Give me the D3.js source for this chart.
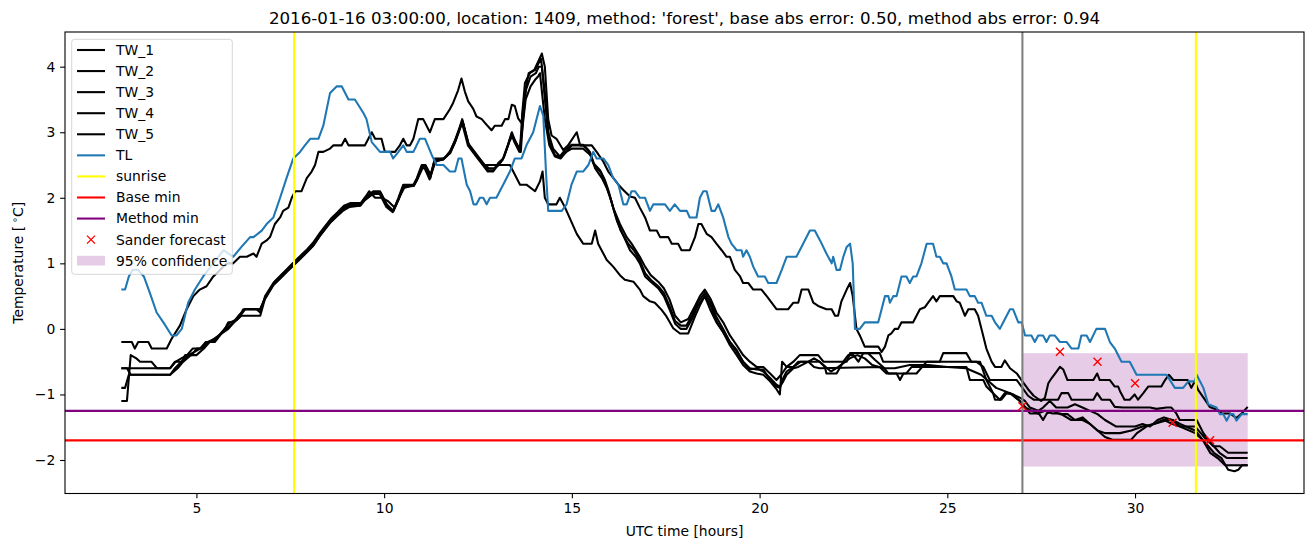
<!DOCTYPE html>
<html><head><meta charset="utf-8">
<script src="https://cdn.jsdelivr.net/npm/d3@7"></script>
<style>body{margin:0;background:#fff}svg{display:block;font-family:"DejaVu Sans",sans-serif}</style>
</head><body><svg id="c" width="1313" height="547"></svg>
<script>
// ---------- data: [UTC hour, temperature °C] ----------
const tw1 = [[3.0,-0.2],[3.28,-0.2],[3.36,-0.3],[3.45,-0.2],[3.72,-0.2],[3.81,-0.3],[4.21,-0.3],[4.34,-0.15],[4.56,0.05],[4.74,0.3],[4.92,0.5],[5.09,0.6],[5.27,0.65],[5.45,0.8],[5.63,0.9],[5.81,1.0],[5.98,1.0],[6.16,1.1],[6.34,1.1],[6.52,1.15],[6.6,1.1],[6.74,1.3],[6.87,1.35],[6.96,1.4],[7.09,1.6],[7.23,1.7],[7.31,1.8],[7.45,1.85],[7.54,2.0],[7.63,2.1],[7.8,2.1],[7.94,2.3],[8.07,2.4],[8.16,2.5],[8.25,2.7],[8.38,2.7],[8.56,2.75],[8.65,2.8],[8.87,2.8],[8.96,2.9],[9.05,2.8],[9.49,2.8],[9.58,2.9],[9.67,3.0],[9.76,2.9],[9.93,2.9],[10.02,2.7],[10.29,2.7],[10.42,2.8],[10.51,2.9],[10.6,2.8],[10.69,2.8],[10.78,2.9],[10.91,3.2],[11.04,3.2],[11.22,3.0],[11.35,3.2],[11.58,3.2],[11.75,3.35],[11.84,3.45],[11.97,3.64],[12.06,3.82],[12.15,3.62],[12.24,3.47],[12.37,3.36],[12.46,3.24],[12.6,3.2],[12.69,3.14],[12.86,3.03],[12.95,3.1],[13.13,3.1],[13.22,3.2],[13.31,3.2],[13.4,3.42],[13.48,3.4],[13.57,3.21],[13.66,3.14],[13.75,3.6],[13.85,3.9],[14.0,3.95],[14.12,4.1],[14.2,4.2],[14.28,4.0],[14.37,3.2],[14.46,2.95],[14.59,2.9],[14.77,2.73],[14.9,2.8],[15.13,3.0],[15.22,2.8],[15.53,2.8],[15.66,2.7],[15.84,2.55],[15.97,2.4],[16.15,2.27],[16.24,2.2],[16.37,2.12],[16.55,2.02],[16.68,2.0],[16.81,1.85],[16.95,1.7],[17.08,1.5],[17.26,1.5],[17.35,1.4],[17.57,1.4],[17.66,1.3],[17.83,1.3],[17.92,1.2],[18.14,1.2],[18.28,1.4],[18.37,1.6],[18.45,1.6],[18.59,1.45],[18.72,1.4],[18.85,1.3],[18.99,1.2],[19.12,1.1],[19.21,1.1],[19.34,0.9],[19.48,0.8],[19.56,0.7],[19.7,0.7],[19.83,0.6],[20.05,0.6],[20.19,0.5],[20.32,0.4],[20.45,0.3],[20.76,0.3],[20.9,0.4],[21.03,0.4],[21.12,0.6],[21.3,0.6],[21.43,0.4],[21.56,0.35],[21.78,0.3],[21.92,0.3],[22.01,0.2],[22.09,0.2],[22.18,0.42],[22.32,0.6],[22.41,0.7],[22.48,0.5],[22.58,0.0],[22.67,-0.1],[22.8,-0.27],[23.16,-0.27],[23.25,-0.35],[23.34,-0.27],[23.43,-0.1],[23.51,-0.07],[23.6,0.0],[23.69,0.0],[23.78,0.1],[24.09,0.1],[24.18,0.2],[24.27,0.3],[24.4,0.33],[24.49,0.4],[24.62,0.5],[24.71,0.42],[24.8,0.5],[25.16,0.5],[25.25,0.42],[25.33,0.4],[25.47,0.2],[25.56,0.3],[25.73,0.3],[25.82,0.2],[25.91,0.0],[26.04,-0.3],[26.18,-0.5],[26.27,-0.58],[26.44,-0.58],[26.53,-0.48],[26.67,-0.6],[26.85,-0.68],[27.0,-0.8],[27.15,-0.92],[27.3,-1.02],[27.5,-1.1],[27.6,-1.05],[27.69,-0.83],[27.78,-0.75],[27.91,-0.65],[28.0,-0.58],[28.09,-0.62],[28.2,-0.78],[28.89,-0.78],[28.99,-0.68],[29.06,-0.78],[29.33,-0.78],[29.46,-0.88],[29.55,-0.88],[29.6,-0.95],[29.72,-1.08],[29.86,-1.08],[29.99,-1.0],[30.08,-1.08],[30.22,-0.98],[30.35,-0.88],[30.7,-0.88],[30.8,-0.78],[30.9,-0.7],[31.02,-0.78],[31.4,-0.78],[31.5,-0.9],[31.59,-0.8],[31.68,-0.93],[31.86,-1.08],[31.99,-1.19],[32.22,-1.24],[32.3,-1.29],[32.53,-1.29],[32.7,-1.36],[32.84,-1.29],[33.0,-1.19]];

const tw2 = [[3.0,-0.6],[4.3,-0.6],[4.43,-0.5],[4.61,-0.5],[4.7,-0.4],[4.87,-0.4],[5.01,-0.3],[5.18,-0.3],[5.27,-0.2],[5.49,-0.2],[5.63,-0.1],[5.76,0.0],[5.85,0.1],[5.98,0.1],[6.12,0.2],[6.29,0.3],[6.6,0.3],[6.7,0.25],[6.83,0.5],[7.05,0.7],[7.23,0.8],[7.4,0.9],[7.58,1.0],[7.76,1.1],[7.94,1.2],[8.11,1.3],[8.29,1.45],[8.56,1.65],[8.74,1.75],[8.91,1.85],[9.09,1.9],[9.36,1.9],[9.49,2.0],[9.71,2.1],[9.89,2.1],[10.07,1.9],[10.24,1.8],[10.38,2.0],[10.51,2.2],[10.78,2.2],[10.87,2.3],[11.0,2.5],[11.09,2.5],[11.22,2.3],[11.35,2.6],[11.58,2.6],[11.66,2.63],[11.75,2.7],[11.89,2.88],[12.02,3.09],[12.08,3.2],[12.15,3.03],[12.24,2.83],[12.37,2.73],[12.5,2.63],[12.64,2.53],[12.77,2.42],[12.91,2.42],[13.04,2.53],[13.17,2.6],[13.31,2.83],[13.4,3.0],[13.48,2.88],[13.62,2.73],[13.68,3.3],[13.75,3.75],[13.88,3.9],[14.02,3.95],[14.11,4.05],[14.18,4.12],[14.28,3.6],[14.37,3.0],[14.5,2.75],[14.68,2.63],[14.82,2.73],[14.99,2.81],[15.3,2.81],[15.44,2.73],[15.57,2.53],[15.75,2.42],[15.88,2.27],[15.97,2.12],[16.1,1.85],[16.28,1.6],[16.46,1.4],[16.59,1.3],[16.81,1.1],[16.95,0.95],[17.1,0.82],[17.3,0.72],[17.45,0.62],[17.6,0.45],[17.75,0.2],[17.9,0.1],[18.1,0.15],[18.28,0.35],[18.41,0.5],[18.54,0.6],[18.7,0.45],[18.85,0.25],[19.03,0.1],[19.21,-0.1],[19.39,-0.25],[19.56,-0.4],[19.74,-0.5],[19.92,-0.58],[20.1,-0.58],[20.28,-0.68],[20.45,-0.78],[20.6,-0.68],[20.72,-0.58],[20.9,-0.5],[21.07,-0.4],[21.56,-0.4],[21.7,-0.5],[22.32,-0.5],[22.41,-0.37],[23.2,-0.37],[23.29,-0.5],[25.77,-0.5],[25.96,-0.58],[26.13,-0.78],[26.85,-0.78],[27.0,-0.9],[27.15,-1.02],[27.3,-1.08],[27.95,-1.08],[28.04,-0.98],[28.22,-0.98],[28.31,-1.08],[28.89,-1.08],[28.99,-0.98],[29.11,-1.08],[29.33,-1.08],[29.46,-1.19],[29.68,-1.2],[30.4,-1.2],[30.57,-1.22],[30.84,-1.2],[30.97,-1.2],[31.1,-1.29],[31.19,-1.39],[31.64,-1.39],[31.73,-1.49],[31.82,-1.59],[31.95,-1.69],[32.08,-1.79],[32.26,-1.79],[32.48,-1.89],[33.0,-1.89]];

const tw3 = [[3.0,-0.6],[3.15,-0.6],[3.25,-0.7],[4.3,-0.7],[4.43,-0.6],[4.6,-0.5],[4.78,-0.4],[4.95,-0.35],[5.1,-0.3],[5.3,-0.2],[5.5,-0.15],[5.7,-0.05],[5.9,0.05],[6.1,0.15],[6.3,0.3],[6.7,0.3],[6.85,0.5],[7.08,0.72],[7.25,0.82],[7.43,0.92],[7.6,1.02],[7.78,1.12],[7.96,1.22],[8.13,1.33],[8.31,1.48],[8.58,1.68],[8.76,1.78],[8.93,1.88],[9.11,1.92],[9.38,1.92],[9.51,2.02],[9.6,2.1],[9.76,2.0],[9.95,2.0],[10.1,1.95],[10.28,1.85],[10.4,2.0],[10.53,2.15],[10.8,2.2],[10.9,2.3],[11.02,2.45],[11.1,2.5],[11.24,2.35],[11.37,2.55],[11.6,2.6],[11.77,2.72],[11.91,2.9],[12.04,3.1],[12.1,3.15],[12.17,3.0],[12.26,2.8],[12.4,2.7],[12.53,2.6],[12.67,2.5],[12.8,2.45],[12.93,2.45],[13.06,2.5],[13.2,2.63],[13.33,2.85],[13.42,2.95],[13.5,2.85],[13.64,2.7],[13.7,3.2],[13.78,3.65],[13.9,3.85],[14.04,3.9],[14.12,4.0],[14.2,4.0],[14.3,3.4],[14.4,2.85],[14.55,2.65],[14.7,2.63],[14.85,2.7],[15.0,2.8],[15.3,2.8],[15.48,2.7],[15.6,2.5],[15.78,2.38],[15.9,2.2],[16.0,2.05],[16.15,1.75],[16.3,1.5],[16.5,1.3],[16.65,1.2],[16.81,1.05],[16.95,0.85],[17.1,0.75],[17.3,0.65],[17.45,0.55],[17.6,0.35],[17.75,0.12],[17.9,0.05],[18.05,0.05],[18.2,0.2],[18.35,0.4],[18.54,0.55],[18.7,0.4],[18.85,0.18],[19.03,0.0],[19.21,-0.2],[19.39,-0.32],[19.56,-0.5],[19.74,-0.6],[19.92,-0.62],[20.1,-0.62],[20.28,-0.78],[20.45,-0.88],[20.54,-0.9],[20.63,-0.75],[20.72,-0.65],[20.9,-0.58],[21.03,-0.5],[21.6,-0.5],[21.74,-0.58],[21.78,-0.68],[22.05,-0.68],[22.23,-0.5],[22.36,-0.4],[22.5,-0.4],[22.63,-0.5],[22.76,-0.37],[22.89,-0.37],[23.07,-0.47],[23.29,-0.58],[23.43,-0.68],[23.65,-0.68],[23.74,-0.78],[23.83,-0.68],[24.18,-0.68],[24.45,-0.5],[24.8,-0.5],[24.89,-0.37],[25.51,-0.37],[25.64,-0.5],[25.87,-0.5],[26.04,-0.78],[26.22,-0.98],[26.4,-1.08],[26.53,-0.98],[26.67,-0.98],[26.75,-1.0],[26.93,-1.05],[27.07,-1.1],[27.2,-1.2],[27.42,-1.25],[27.55,-1.2],[27.73,-1.1],[27.9,-1.2],[28.2,-1.2],[28.4,-1.15],[28.6,-1.2],[28.8,-1.25],[29.0,-1.3],[29.2,-1.39],[29.5,-1.49],[30.0,-1.49],[30.2,-1.45],[30.4,-1.49],[30.6,-1.39],[30.77,-1.35],[31.0,-1.39],[31.2,-1.49],[31.6,-1.49],[31.75,-1.59],[31.9,-1.69],[32.1,-1.79],[32.25,-1.89],[32.45,-1.97],[33.0,-1.97]];

const tw4 = [[3.0,-0.9],[3.1,-0.9],[3.2,-0.7],[4.3,-0.7],[4.5,-0.6],[4.65,-0.5],[4.85,-0.4],[5.0,-0.4],[5.2,-0.3],[5.35,-0.2],[5.6,-0.1],[5.85,0.0],[6.0,0.1],[6.2,0.2],[6.5,0.2],[6.7,0.2],[6.82,0.45],[7.04,0.66],[7.22,0.76],[7.39,0.86],[7.57,0.96],[7.75,1.06],[7.93,1.16],[8.1,1.26],[8.28,1.41],[8.55,1.61],[8.73,1.71],[8.9,1.8],[9.08,1.86],[9.35,1.88],[9.48,1.96],[9.7,2.06],[9.88,2.06],[10.06,1.86],[10.23,1.78],[10.37,1.96],[10.5,2.16],[10.77,2.18],[10.86,2.26],[10.99,2.45],[11.08,2.45],[11.21,2.28],[11.34,2.56],[11.57,2.58],[11.74,2.68],[11.88,2.84],[12.01,3.05],[12.07,3.15],[12.14,3.0],[12.23,2.8],[12.36,2.7],[12.49,2.6],[12.63,2.5],[12.76,2.4],[12.9,2.4],[13.03,2.5],[13.16,2.58],[13.3,2.8],[13.39,2.97],[13.47,2.85],[13.6,2.7],[13.67,3.0],[13.77,3.5],[13.9,3.7],[14.02,3.8],[14.1,3.85],[14.15,3.9],[14.28,3.2],[14.4,2.8],[14.55,2.63],[14.7,2.6],[14.85,2.7],[15.0,2.75],[15.3,2.75],[15.5,2.65],[15.62,2.45],[15.8,2.3],[15.93,2.15],[16.05,1.95],[16.2,1.65],[16.35,1.45],[16.55,1.2],[16.7,1.1],[16.81,1.0],[16.95,0.8],[17.1,0.72],[17.3,0.62],[17.45,0.5],[17.6,0.3],[17.75,0.08],[17.9,0.0],[18.05,0.0],[18.2,0.15],[18.35,0.35],[18.54,0.5],[18.7,0.35],[18.85,0.12],[19.03,-0.05],[19.21,-0.25],[19.39,-0.4],[19.56,-0.55],[19.74,-0.65],[19.92,-0.68],[20.1,-0.7],[20.28,-0.8],[20.45,-0.92],[20.54,-1.0],[20.6,-0.5],[20.72,-0.58],[20.9,-0.58],[21.1,-0.5],[21.3,-0.5],[21.45,-0.58],[21.6,-0.6],[23.2,-0.58],[23.38,-0.68],[23.91,-0.68],[24.05,-0.58],[25.51,-0.58],[25.6,-0.78],[25.96,-0.78],[26.04,-0.88],[26.22,-0.98],[26.27,-1.08],[26.44,-1.08],[26.58,-0.98],[26.75,-1.0],[26.93,-1.1],[27.07,-1.19],[27.2,-1.29],[27.4,-1.29],[27.6,-1.25],[27.8,-1.29],[28.0,-1.29],[28.3,-1.39],[28.6,-1.39],[28.8,-1.45],[29.0,-1.55],[29.2,-1.59],[29.6,-1.59],[29.9,-1.55],[30.2,-1.49],[30.5,-1.45],[30.8,-1.4],[31.0,-1.45],[31.2,-1.49],[31.6,-1.59],[31.8,-1.69],[32.0,-1.89],[32.2,-1.97],[32.4,-2.08],[33.0,-2.08]];

const tw5 = [[3.0,-1.1],[3.15,-1.1],[3.25,-0.4],[3.4,-0.45],[3.5,-0.5],[3.8,-0.5],[3.95,-0.6],[4.3,-0.6],[4.45,-0.5],[4.6,-0.45],[4.75,-0.4],[4.9,-0.3],[5.1,-0.3],[5.25,-0.2],[5.45,-0.2],[5.6,-0.1],[5.75,0.0],[5.9,0.1],[6.1,0.15],[6.25,0.3],[6.5,0.3],[6.7,0.3],[6.84,0.48],[7.06,0.68],[7.24,0.78],[7.41,0.88],[7.59,0.98],[7.77,1.08],[7.95,1.18],[8.12,1.28],[8.3,1.43],[8.57,1.63],[8.75,1.73],[8.92,1.83],[9.1,1.88],[9.37,1.88],[9.5,1.98],[9.72,2.08],[9.9,2.08],[10.08,1.88],[10.25,1.8],[10.39,1.98],[10.52,2.18],[10.79,2.18],[10.88,2.28],[11.01,2.48],[11.1,2.48],[11.23,2.3],[11.36,2.58],[11.59,2.6],[11.76,2.68],[11.9,2.86],[12.03,3.07],[12.09,3.17],[12.16,3.0],[12.25,2.8],[12.38,2.7],[12.51,2.6],[12.65,2.5],[12.77,2.5],[13.35,2.5],[13.62,2.2],[13.79,2.2],[14.02,2.1],[14.15,2.25],[14.22,2.4],[14.28,2.0],[14.37,1.9],[14.59,1.9],[14.68,2.0],[14.82,1.85],[15.13,1.45],[15.3,1.3],[15.53,1.3],[15.62,1.5],[15.7,1.3],[15.93,1.05],[16.1,0.95],[16.28,0.82],[16.41,0.75],[16.64,0.72],[16.81,0.6],[16.9,0.5],[17.08,0.42],[17.21,0.4],[17.39,0.29],[17.52,0.19],[17.7,0.01],[17.88,-0.07],[18.1,-0.07],[18.28,0.19],[18.41,0.36],[18.54,0.5],[18.68,0.3],[18.85,0.1],[19.03,-0.05],[19.21,-0.2],[19.39,-0.35],[19.56,-0.5],[19.74,-0.62],[19.92,-0.6],[20.1,-0.65],[20.28,-0.75],[20.45,-0.85],[20.54,-0.88],[20.63,-0.8],[20.72,-0.7],[20.9,-0.6],[21.03,-0.58],[21.3,-0.5],[21.45,-0.45],[21.6,-0.5],[21.9,-0.65],[22.1,-0.58],[22.4,-0.45],[22.6,-0.4],[22.8,-0.45],[23.0,-0.55],[23.3,-0.6],[23.6,-0.6],[24.0,-0.55],[24.5,-0.55],[25.0,-0.58],[25.5,-0.6],[25.7,-0.65],[25.9,-0.7],[26.1,-0.8],[26.3,-0.9],[26.67,-0.98],[26.93,-1.1],[27.07,-1.2],[27.25,-1.25],[27.45,-1.3],[27.55,-1.39],[27.65,-1.29],[27.8,-1.25],[28.0,-1.3],[28.2,-1.3],[28.4,-1.39],[28.6,-1.35],[28.8,-1.45],[29.0,-1.55],[29.2,-1.65],[29.4,-1.69],[29.9,-1.69],[30.05,-1.59],[30.3,-1.49],[30.5,-1.45],[30.75,-1.39],[31.0,-1.39],[31.2,-1.45],[31.6,-1.55],[31.8,-1.69],[31.95,-1.79],[32.1,-1.89],[32.3,-1.97],[32.48,-2.15],[32.65,-2.17],[32.75,-2.15],[32.85,-2.08],[33.0,-2.08]];

const tl = [[3.0,0.6],[3.1,0.6],[3.2,0.8],[3.3,0.9],[3.45,0.9],[3.6,0.8],[3.76,0.55],[3.94,0.25],[4.12,0.1],[4.34,-0.1],[4.47,-0.1],[4.61,0.0],[4.78,0.4],[4.96,0.6],[5.18,0.8],[5.45,1.0],[5.72,1.2],[5.98,1.1],[6.2,1.25],[6.43,1.4],[6.52,1.4],[6.74,1.5],[6.87,1.6],[7.05,1.7],[7.23,2.0],[7.4,2.3],[7.58,2.6],[7.76,2.7],[7.89,2.8],[8.03,2.9],[8.25,2.9],[8.38,3.1],[8.56,3.6],[8.74,3.7],[8.87,3.7],[9.05,3.5],[9.22,3.5],[9.44,3.3],[9.53,3.2],[9.67,2.85],[9.89,2.7],[10.16,2.7],[10.24,2.6],[10.38,2.7],[10.51,2.8],[10.6,2.7],[10.78,2.7],[10.95,2.9],[11.09,2.9],[11.27,2.65],[11.4,2.5],[11.58,2.5],[11.75,2.4],[11.89,2.4],[11.98,2.6],[12.06,2.6],[12.2,2.2],[12.29,2.1],[12.38,1.9],[12.46,1.9],[12.55,2.0],[12.64,2.0],[12.73,1.9],[12.82,2.0],[12.99,2.0],[13.17,2.2],[13.35,2.4],[13.48,2.6],[13.66,2.6],[13.79,2.8],[13.97,3.0],[14.15,3.4],[14.24,3.25],[14.31,2.4],[14.37,1.8],[14.73,1.8],[14.86,1.9],[14.99,2.2],[15.13,2.4],[15.3,2.4],[15.44,2.5],[15.57,2.7],[15.66,2.6],[15.84,2.6],[15.97,2.5],[16.1,2.3],[16.24,2.2],[16.37,1.9],[16.46,1.9],[16.59,2.1],[16.68,2.1],[16.81,2.0],[16.95,2.0],[17.08,1.8],[17.17,1.9],[17.48,1.9],[17.61,1.8],[17.74,1.9],[17.88,1.8],[18.06,1.8],[18.14,1.7],[18.32,1.7],[18.41,2.0],[18.5,2.1],[18.59,2.1],[18.72,1.8],[18.81,1.8],[18.9,1.9],[19.03,1.7],[19.17,1.4],[19.25,1.3],[19.39,1.2],[19.52,1.2],[19.56,1.1],[19.65,1.2],[19.74,1.1],[19.83,0.95],[19.96,0.8],[20.14,0.8],[20.23,0.7],[20.45,0.7],[20.59,0.9],[20.72,1.1],[20.98,1.1],[21.16,1.3],[21.34,1.5],[21.47,1.5],[21.61,1.35],[21.78,1.15],[21.92,1.0],[21.96,1.1],[22.05,0.9],[22.14,0.9],[22.23,1.1],[22.32,1.25],[22.41,1.3],[22.48,1.0],[22.54,0.0],[22.67,0.0],[22.8,0.1],[23.16,0.1],[23.34,0.5],[23.43,0.5],[23.47,0.4],[23.56,0.5],[23.65,0.5],[23.78,0.8],[23.91,0.8],[24.0,0.7],[24.09,0.8],[24.18,0.8],[24.31,1.0],[24.45,1.3],[24.54,1.3],[24.62,1.3],[24.71,1.1],[24.8,1.1],[24.89,1.0],[24.98,1.0],[25.11,0.8],[25.2,0.6],[25.51,0.6],[25.6,0.5],[25.73,0.5],[25.82,0.4],[25.91,0.4],[26.04,0.2],[26.18,0.2],[26.27,0.1],[26.4,0.0],[26.49,0.1],[26.67,0.3],[26.75,0.3],[26.89,0.1],[26.98,0.1],[27.07,-0.1],[27.24,-0.1],[27.33,-0.2],[27.42,-0.1],[27.55,-0.1],[27.64,-0.2],[27.73,-0.1],[27.86,-0.1],[28.0,-0.2],[28.18,-0.2],[28.31,-0.3],[28.49,-0.3],[28.57,-0.1],[28.71,-0.1],[28.8,-0.2],[28.97,0.0],[29.2,0.0],[29.33,-0.2],[29.46,-0.3],[29.64,-0.5],[29.86,-0.5],[30.04,-0.7],[30.84,-0.7],[31.06,-0.9],[31.28,-0.9],[31.42,-0.8],[31.59,-0.8],[31.64,-0.7],[31.82,-0.9],[31.95,-1.15],[32.17,-1.2],[32.26,-1.3],[32.35,-1.3],[32.44,-1.4],[32.53,-1.3],[32.62,-1.3],[32.7,-1.4],[32.84,-1.3],[33.0,-1.3]];

const sunriseHours = [7.6, 31.62];
const forecastStart = 27.0;
const baseMin = -1.7;
const methodMin = -1.25;
const forecastHours = [27, 28, 29, 30, 31, 32];
const forecastTemps = [-1.18, -0.35, -0.5, -0.83, -1.43, -1.7];
const confidenceHours = [27, 33];
const confidenceLow = -2.1;
const confidenceHigh = -0.37;
const xTicks = [5, 10, 15, 20, 25, 30];
const yTicks = [-2, -1, 0, 1, 2, 3, 4];
const seriesNames = ["TW_1", "TW_2", "TW_3", "TW_4", "TW_5"];
const titleText = "2016-01-16 03:00:00, location: 1409, method: 'forest', base abs error: 0.50, method abs error: 0.94";

// ---------- layout ----------
const L = 65, R = 1304, T = 32, B = 493.5;
const FS = 13.9;
const svg = d3.select("#c");
const x = d3.scaleLinear().domain([1.5, 34.5]).range([L, R]);
const y = d3.scaleLinear().domain([-2.511, 4.529]).range([B, T]);

svg.append("defs").append("clipPath").attr("id", "clip")
  .append("rect").attr("x", L).attr("y", T).attr("width", R - L).attr("height", B - T);
const plot = svg.append("g").attr("clip-path", "url(#clip)");

// confidence band
plot.append("rect")
  .attr("x", x(confidenceHours[0])).attr("width", x(confidenceHours[1]) - x(confidenceHours[0]))
  .attr("y", y(confidenceHigh)).attr("height", y(confidenceLow) - y(confidenceHigh))
  .attr("fill", "#800080").attr("fill-opacity", 0.2);

const line = d3.line().x(d => x(d[0])).y(d => y(d[1]));
[tw1, tw2, tw3, tw4, tw5].forEach(s => {
  plot.append("path").datum(s).attr("d", line).attr("fill", "none")
    .attr("stroke", "#000").attr("stroke-width", 2.08).attr("stroke-linejoin", "round");
});
plot.append("path").datum(tl).attr("d", line).attr("fill", "none")
  .attr("stroke", "#1f77b4").attr("stroke-width", 2.08).attr("stroke-linejoin", "round");

sunriseHours.forEach(h => {
  plot.append("line").attr("x1", x(h)).attr("x2", x(h)).attr("y1", T).attr("y2", B)
    .attr("stroke", "#ffff00").attr("stroke-width", 2.08);
});
plot.append("line").attr("x1", L).attr("x2", R).attr("y1", y(baseMin)).attr("y2", y(baseMin))
  .attr("stroke", "#ff0000").attr("stroke-width", 2.08);
plot.append("line").attr("x1", L).attr("x2", R).attr("y1", y(methodMin)).attr("y2", y(methodMin))
  .attr("stroke", "#800080").attr("stroke-width", 2.08);
plot.append("line").attr("x1", x(forecastStart)).attr("x2", x(forecastStart)).attr("y1", T).attr("y2", B)
  .attr("stroke", "#808080").attr("stroke-width", 2.08);

function xMark(g, cx, cy, r) {
  g.append("path").attr("d", `M${cx - r},${cy - r}L${cx + r},${cy + r}M${cx - r},${cy + r}L${cx + r},${cy - r}`)
    .attr("stroke", "#ff0000").attr("stroke-width", 1.4).attr("fill", "none");
}
forecastHours.forEach((h, i) => xMark(plot, x(h), y(forecastTemps[i]), 4));

// axes
const xAxis = svg.append("g").attr("transform", `translate(0,${B})`)
  .call(d3.axisBottom(x).tickValues(xTicks).tickSize(4.86).tickPadding(4.86).tickFormat(d3.format("d")));
const yAxis = svg.append("g").attr("transform", `translate(${L},0)`)
  .call(d3.axisLeft(y).tickValues(yTicks).tickSize(4.86).tickPadding(4.86).tickFormat(d => d < 0 ? "\u2212" + Math.abs(d) : d));
[xAxis, yAxis].forEach(a => {
  a.select(".domain").remove();
  a.selectAll("line").attr("stroke", "#000").attr("stroke-width", 1.1);
  a.selectAll("text").attr("font-size", FS).attr("fill", "#000").attr("font-family", "DejaVu Sans");
});
svg.append("rect").attr("x", L).attr("y", T).attr("width", R - L).attr("height", B - T)
  .attr("fill", "none").attr("stroke", "#000").attr("stroke-width", 1.1);

// labels
svg.append("text").attr("x", (L + R) / 2).attr("y", 536).attr("text-anchor", "middle")
  .attr("font-size", FS).text("UTC time [hours]");
const yl = svg.append("text").attr("transform", `translate(23,${(T + B) / 2}) rotate(-90)`)
  .attr("text-anchor", "middle").attr("font-size", FS).attr("xml:space", "preserve");
yl.append("tspan").text("Temperature [\u2009");
yl.append("tspan").attr("font-size", FS * 0.7).attr("dy", -5).text("\u2218");
yl.append("tspan").attr("dy", 5).text("C]");
svg.append("text").attr("x", (L + R) / 2).attr("y", 24).attr("text-anchor", "middle")
  .attr("font-size", 16.67).text(titleText);

// legend
const lg = svg.append("g");
lg.append("rect").attr("x", 71.7).attr("y", 39.3).attr("width", 160.6).attr("height", 235)
  .attr("rx", 2.8).attr("fill", "#fff").attr("fill-opacity", 0.8).attr("stroke", "#cccccc").attr("stroke-opacity", 0.8);
const items = seriesNames.map(n => ({label: n, kind: "line", color: "#000"})).concat([
  {label: "TL", kind: "line", color: "#1f77b4"},
  {label: "sunrise", kind: "line", color: "#ffff00"},
  {label: "Base min", kind: "line", color: "#ff0000"},
  {label: "Method min", kind: "line", color: "#800080"},
  {label: "Sander forecast", kind: "marker", color: "#ff0000"},
  {label: "95% confidence", kind: "patch", color: "#800080"}
]);
items.forEach((it, i) => {
  const cy = 50 + i * 21.07;
  if (it.kind === "line") {
    lg.append("line").attr("x1", 77).attr("x2", 105).attr("y1", cy).attr("y2", cy)
      .attr("stroke", it.color).attr("stroke-width", 2.08);
  } else if (it.kind === "marker") {
    xMark(lg, 91, cy, 4);
  } else {
    lg.append("rect").attr("x", 77).attr("y", cy - 4.9).attr("width", 28).attr("height", 9.7)
      .attr("fill", it.color).attr("fill-opacity", 0.2);
  }
  lg.append("text").attr("x", 116).attr("y", cy + 4.9).attr("font-size", FS).attr("fill", "#000").text(it.label);
});
</script></body></html>
